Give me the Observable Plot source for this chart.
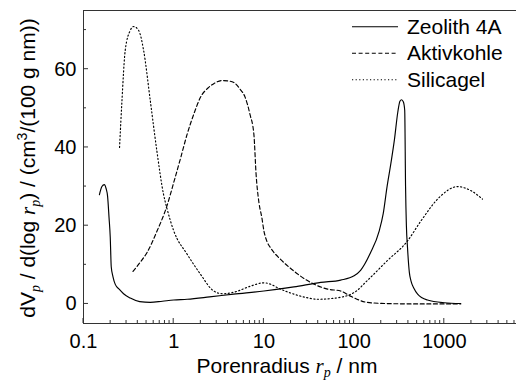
<!DOCTYPE html>
<html>
<head>
<meta charset="utf-8">
<script src="https://cdn.jsdelivr.net/npm/d3@7"></script>
<script src="https://cdn.jsdelivr.net/npm/@observablehq/plot@0.6"></script>
<style>
  html, body { margin: 0; padding: 0; background: #fff; overflow: hidden; }
  #chart svg { max-width: none !important; display: block; }
</style>
</head>
<body>
<div id="chart"></div>
<script>
// Pore size distributions dV/d(log r) over pore radius r (nm)
const seriesNames = ["Zeolith 4A", "Aktivkohle", "Silicagel"];

const zeolithR = [0.150, 0.160, 0.170, 0.178, 0.185, 0.192, 0.198, 0.203, 0.212, 0.225, 0.25, 0.278, 0.33, 0.42, 0.55, 0.75, 1.0, 1.41, 2.5, 4.6, 10, 21.5, 42.7, 71, 100, 118, 152, 190, 210, 232, 256, 280, 305, 322, 336, 352, 364, 372, 380, 391, 410, 427, 460, 506, 650, 1000, 1520];
const zeolithV = [27.9, 30.0, 30.5, 29.5, 27.5, 22.0, 17.0, 9.5, 7.0, 5.0, 3.7, 2.6, 1.5, 0.6, 0.4, 0.7, 1.0, 1.2, 1.8, 2.5, 3.3, 4.35, 5.5, 6.1, 7.2, 8.6, 13.1, 18.7, 23.0, 30.0, 36.0, 42.0, 49.0, 51.8, 52.2, 51.6, 49.5, 30.0, 20.0, 14.4, 8.0, 5.9, 4.0, 2.5, 1.0, 0.3, 0.1];

const aktivR = [0.354, 0.42, 0.505, 0.65, 0.84, 1.0, 1.2, 1.41, 1.7, 1.98, 2.4, 2.78, 3.45, 4.0, 4.64, 5.4, 6.2, 7.0, 7.74, 8.2, 8.8, 9.5, 10.0, 10.8, 11.8, 15.3, 21.5, 32.9, 50.7, 71, 91, 139, 200, 279, 650, 1520];
const aktivV = [8.3, 10.5, 13.1, 18.5, 25.0, 31.0, 37.5, 43.4, 49.0, 52.8, 55.2, 56.3, 57.1, 57.0, 56.6, 55.0, 52.8, 48.5, 43.4, 33.0, 26.0, 22.0, 18.7, 16.0, 14.4, 11.4, 8.4, 5.5, 3.8, 3.3, 2.0, 0.4, 0.15, 0.05, 0.0, 0.0];

const silicaR = [0.251, 0.267, 0.29, 0.33, 0.359, 0.409, 0.464, 0.55, 0.65, 0.77, 0.84, 1.0, 1.41, 1.98, 2.78, 3.5, 5.0, 7.0, 10, 12, 14, 21.5, 30, 39.3, 59.9, 100, 139, 232, 391, 550, 913, 1400, 1955, 2650];
const silicaV = [40.0, 52.0, 64.8, 69.9, 70.9, 69.9, 64.8, 52.0, 39.2, 28.1, 24.5, 18.7, 12.7, 7.6, 3.3, 2.6, 3.2, 4.5, 5.4, 5.0, 4.2, 2.5, 1.6, 1.2, 1.45, 2.9, 5.9, 11.0, 16.1, 21.2, 27.6, 30.0, 29.0, 26.8];

// Axis ticks
const xTickLabels = [0.1, 1, 10, 100, 1000];
const xMajorTicks = [0.1, 1, 10, 100, 1000, 10000];
const yTickLabels = [0, 20, 40, 60];
const yMinorTicks = [10, 30, 50, 70];

const dashes = { "Zeolith 4A": null, "Aktivkohle": "4,2.6", "Silicagel": "1.2,2.4" };

function rows(name, rs, vs) {
  return rs.map((r, i) => ({ series: name, r, v: vs[i] }));
}
const data = [
  ...rows("Zeolith 4A", zeolithR, zeolithV),
  ...rows("Aktivkohle", aktivR, aktivV),
  ...rows("Silicagel", silicaR, silicaV)
];

const FONT = "'Liberation Sans', Arial, Helvetica, sans-serif";
const SERIF = "'Liberation Serif', 'Times New Roman', serif";

const chart = Plot.plot({
  width: 534,
  height: 381,
  marginTop: 10,
  marginRight: 0,
  marginBottom: 58,
  marginLeft: 83,
  style: { fontFamily: FONT, fontSize: "20px", color: "#000", background: "#fff", maxWidth: "none" },
  x: { type: "log", domain: [0.1, 10000] },
  y: { domain: [-5, 75] },
  marks: [
    Plot.frame({ stroke: "#333", strokeWidth: 1 }),
    Plot.axisX(xTickLabels, { tickSize: 0, tickPadding: 10, tickFormat: d => String(d), label: null, fontSize: 20, fill: "#000" }),
    Plot.axisY(yTickLabels, { tickSize: 0, tickPadding: 7, tickFormat: d => String(d), label: null, fontSize: 20, fill: "#000" }),
    ...seriesNames.map(name =>
      Plot.line(data.filter(d => d.series === name), {
        x: "r", y: "v",
        stroke: "#000",
        strokeWidth: 1.15,
        strokeDasharray: dashes[name],
        curve: "monotone-x"
      })
    )
  ]
});

document.getElementById("chart").append(chart);

// Inward tick marks drawn with the plot's own scales
const svg = d3.select(chart);
const xs = chart.scale("x"), ys = chart.scale("y");
const x0 = xs.apply(0.1), yBase = ys.apply(-5);
const ticks = svg.append("g").attr("stroke", "#333").attr("stroke-width", 1);

const xMinor = [];
for (const dec of [0.1, 1, 10, 100, 1000]) for (let k = 2; k <= 9; k++) xMinor.push(dec * k);

xMajorTicks.forEach(v => {
  const px = xs.apply(v);
  ticks.append("line").attr("x1", px).attr("x2", px).attr("y1", yBase).attr("y2", yBase - 5);
});
xMinor.forEach(v => {
  const px = xs.apply(v);
  ticks.append("line").attr("x1", px).attr("x2", px).attr("y1", yBase).attr("y2", yBase - 3);
});
yTickLabels.forEach(v => {
  const py = ys.apply(v);
  ticks.append("line").attr("x1", x0).attr("x2", x0 + 5).attr("y1", py).attr("y2", py);
});
yMinorTicks.forEach(v => {
  const py = ys.apply(v);
  ticks.append("line").attr("x1", x0).attr("x2", x0 + 3).attr("y1", py).attr("y2", py);
});

// Axis titles
const xl = svg.append("text")
  .attr("x", 287).attr("y", 373)
  .attr("text-anchor", "middle")
  .attr("font-family", FONT).attr("font-size", 21).attr("fill", "#000");
xl.append("tspan").text("Porenradius ");
xl.append("tspan").attr("font-family", SERIF).attr("font-style", "italic").text("r");
xl.append("tspan").attr("font-family", SERIF).attr("font-style", "italic").attr("font-size", 14).attr("dy", 4).text("p");
xl.append("tspan").attr("dy", -4).text(" / nm");

const yl = svg.append("text")
  .attr("transform", "translate(35,168) rotate(-90)")
  .attr("text-anchor", "middle")
  .attr("font-family", FONT).attr("font-size", 21).attr("fill", "#000");
yl.append("tspan").text("dV");
yl.append("tspan").attr("font-family", SERIF).attr("font-style", "italic").attr("font-size", 14).attr("dy", 5).text("p");
yl.append("tspan").attr("dy", -5).text(" / d(log ");
yl.append("tspan").attr("font-family", SERIF).attr("font-style", "italic").text("r");
yl.append("tspan").attr("font-family", SERIF).attr("font-style", "italic").attr("font-size", 14).attr("dy", 5).text("p");
yl.append("tspan").attr("dy", -5).text(") / (cm");
yl.append("tspan").attr("font-size", 14).attr("dy", -8).text("3");
yl.append("tspan").attr("dy", 8).text("/(100 g nm))");

// Legend
const legend = svg.append("g");
seriesNames.forEach((name, i) => {
  const cy = 26.7 + i * 26.5;
  legend.append("line")
    .attr("x1", 352).attr("x2", 398).attr("y1", cy).attr("y2", cy)
    .attr("stroke", "#000").attr("stroke-width", 1.15)
    .attr("stroke-dasharray", dashes[name]);
  legend.append("text")
    .attr("x", 407).attr("y", cy + 7)
    .attr("text-anchor", "start")
    .attr("font-family", FONT).attr("font-size", 21).attr("fill", "#000")
    .text(name);
});
</script>
</body>
</html>
